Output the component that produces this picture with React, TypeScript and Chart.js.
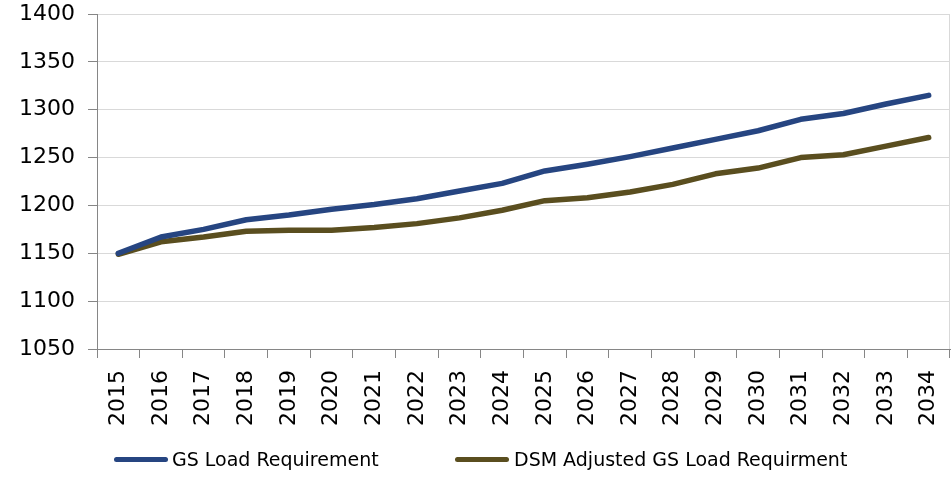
import React, { useEffect, useRef } from "react";
import { Chart, registerables } from "chart.js";

Chart.register(...registerables);

const years = ["2015","2016","2017","2018","2019","2020","2021","2022","2023","2024","2025","2026","2027","2028","2029","2030","2031","2032","2033","2034"];
const gsLoad = [1150, 1167, 1175, 1185, 1190, 1196, 1201, 1207, 1215, 1223, 1236, 1243, 1251, 1260, 1269, 1278, 1290, 1296, 1306, 1315];
const dsmAdjusted = [1149, 1162, 1167, 1173, 1174, 1174, 1177, 1181, 1187, 1195, 1205, 1208, 1214, 1222, 1233, 1239, 1250, 1253, 1262, 1271];
const seriesNames = ["GS Load Requirement", "DSM Adjusted GS Load Requirment"];
const seriesColors = ["#264581", "#5A4E1F"];
const yMin = 1050;
const yMax = 1400;
const yStep = 50;

const FONT = "'DejaVu Sans', sans-serif";

function zeroPad(s: any) {
  s.paddingLeft = 0;
  s.paddingRight = 0;
  s.paddingTop = 0;
  s.paddingBottom = 0;
}

const rightBorder = {
  id: "rightBorder",
  beforeDatasetsDraw(chart: any) {
    const { ctx, chartArea } = chart;
    ctx.save();
    ctx.strokeStyle = "#d9d9d9";
    ctx.lineWidth = 1;
    ctx.beginPath();
    const x = Math.round(chartArea.right) - 0.5;
    ctx.moveTo(x, chartArea.top);
    ctx.lineTo(x, chartArea.bottom);
    ctx.stroke();
    ctx.restore();
  },
};

export default function App() {
  const ref = useRef<HTMLCanvasElement | null>(null);

  useEffect(() => {
    if (!ref.current) return;
    const chart = new Chart(ref.current, {
      type: "line",
      data: {
        labels: years,
        datasets: [
          {
            label: seriesNames[0],
            data: gsLoad,
            borderColor: seriesColors[0],
            backgroundColor: seriesColors[0],
            borderWidth: 5.5,
            pointRadius: 0,
            tension: 0,
            borderCapStyle: "round",
            borderJoinStyle: "round",
          },
          {
            label: seriesNames[1],
            data: dsmAdjusted,
            borderColor: seriesColors[1],
            backgroundColor: seriesColors[1],
            borderWidth: 5.5,
            pointRadius: 0,
            tension: 0,
            borderCapStyle: "round",
            borderJoinStyle: "round",
          },
        ],
      },
      options: {
        responsive: false,
        animation: false,
        layout: { padding: { top: 14, right: 2, bottom: 0, left: 0 } },
        plugins: { legend: { display: false }, tooltip: { enabled: false } },
        scales: {
          x: {
            offset: true,
            grid: {
              offset: true,
              drawOnChartArea: false,
              tickColor: "#868686",
              tickLength: 9,
            },
            border: { color: "#868686", width: 1 },
            ticks: {
              minRotation: 90,
              maxRotation: 90,
              autoSkip: false,
              padding: 12,
              color: "#000",
              font: { family: FONT, size: 22 },
            },
            afterFit: (s: any) => {
              s.height = 134;
              zeroPad(s);
            },
          },
          y: {
            min: yMin,
            max: yMax,
            ticks: {
              stepSize: yStep,
              padding: 13,
              color: "#000",
              font: { family: FONT, size: 22 },
              callback: (v: any) => String(v),
            },
            grid: {
              color: "#d9d9d9",
              tickColor: "#868686",
              tickLength: 9,
            },
            border: { color: "#868686", width: 1 },
            afterFit: (s: any) => {
              s.width = 97;
              zeroPad(s);
            },
          },
        },
      },
      plugins: [rightBorder],
    });
    return () => chart.destroy();
  }, []);

  const legendItems = [
    { line: 114, text: 172 },
    { line: 455, text: 514 },
  ];

  return (
    <div style={{ position: "absolute", left: 0, top: 0, width: 952, height: 483, background: "#fff" }}>
      <canvas ref={ref} width={952} height={483} style={{ display: "block" }} />
      {legendItems.map((it, i) => (
        <React.Fragment key={i}>
          <div
            style={{
              position: "absolute",
              left: it.line,
              top: 457,
              width: 54,
              height: 5,
              borderRadius: 3,
              background: seriesColors[i],
            }}
          />
          <span
            style={{
              position: "absolute",
              left: it.text,
              top: 448,
              fontFamily: FONT,
              fontSize: 19,
              lineHeight: "22px",
              color: "#000",
              whiteSpace: "nowrap",
            }}
          >
            {seriesNames[i]}
          </span>
        </React.Fragment>
      ))}
    </div>
  );
}
